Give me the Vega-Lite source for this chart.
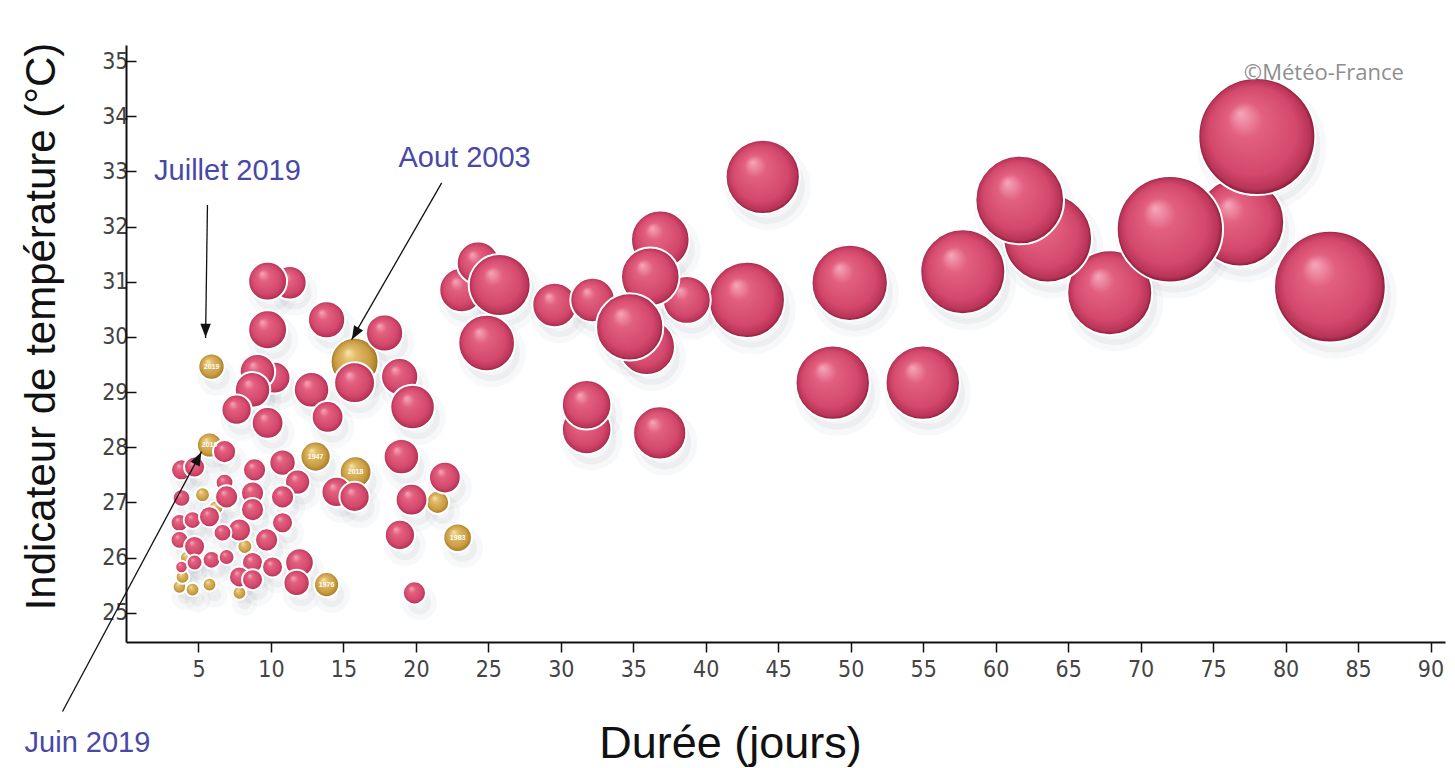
{
  "$schema": "https://vega.github.io/schema/vega-lite/v6.json",
  "width": 1319,
  "height": 597,
  "autosize": {"type": "none"},
  "padding": {"left": 126, "top": 45, "right": 10, "bottom": 126},
  "background": "white",
  "config": {"view": {"stroke": null}},
  "datasets": {
    "vagues": [
      {"d": 76.85, "t": 32.08, "s": 250, "c": "rouge", "a": ""},
      {"d": 67.87, "t": 30.80, "s": 230, "c": "rouge", "a": ""},
      {"d": 63.59, "t": 31.79, "s": 250, "c": "rouge", "a": ""},
      {"d": 61.66, "t": 32.48, "s": 250, "c": "rouge", "a": ""},
      {"d": 57.73, "t": 31.18, "s": 230, "c": "rouge", "a": ""},
      {"d": 72.02, "t": 31.95, "s": 360, "c": "rouge", "a": ""},
      {"d": 78.02, "t": 33.63, "s": 436, "c": "rouge", "a": ""},
      {"d": 83.06, "t": 30.91, "s": 397, "c": "rouge", "a": ""},
      {"d": 43.93, "t": 32.9, "s": 175, "c": "rouge", "a": ""},
      {"d": 42.83, "t": 30.67, "s": 185, "c": "rouge", "a": ""},
      {"d": 49.93, "t": 30.98, "s": 185, "c": "rouge", "a": ""},
      {"d": 48.76, "t": 29.17, "s": 176, "c": "rouge", "a": ""},
      {"d": 54.97, "t": 29.17, "s": 176, "c": "rouge", "a": ""},
      {"d": 23.15, "t": 30.85, "s": 63, "c": "rouge", "a": ""},
      {"d": 24.29, "t": 31.34, "s": 58, "c": "rouge", "a": ""},
      {"d": 24.88, "t": 29.89, "s": 102, "c": "rouge", "a": ""},
      {"d": 25.78, "t": 30.94, "s": 122, "c": "rouge", "a": ""},
      {"d": 29.57, "t": 30.58, "s": 63, "c": "rouge", "a": ""},
      {"d": 32.19, "t": 30.67, "s": 63, "c": "rouge", "a": ""},
      {"d": 38.69, "t": 30.67, "s": 73, "c": "rouge", "a": ""},
      {"d": 35.92, "t": 29.82, "s": 102, "c": "rouge", "a": ""},
      {"d": 36.86, "t": 31.76, "s": 109, "c": "rouge", "a": ""},
      {"d": 36.17, "t": 31.09, "s": 109, "c": "rouge", "a": ""},
      {"d": 34.75, "t": 30.18, "s": 144, "c": "rouge", "a": ""},
      {"d": 31.78, "t": 28.32, "s": 78, "c": "rouge", "a": ""},
      {"d": 31.78, "t": 28.77, "s": 78, "c": "rouge", "a": ""},
      {"d": 36.82, "t": 28.26, "s": 90, "c": "rouge", "a": ""},
      {"d": 3.69, "t": 25.47, "s": 6, "c": "or", "a": ""},
      {"d": 4.59, "t": 25.42, "s": 6, "c": "or", "a": ""},
      {"d": 3.90, "t": 25.65, "s": 6, "c": "or", "a": ""},
      {"d": 5.76, "t": 25.51, "s": 6, "c": "or", "a": ""},
      {"d": 7.83, "t": 25.36, "s": 6, "c": "or", "a": ""},
      {"d": 4.2, "t": 26.0, "s": 6, "c": "or", "a": ""},
      {"d": 6.2, "t": 26.9, "s": 7, "c": "or", "a": ""},
      {"d": 8.2, "t": 26.2, "s": 7, "c": "or", "a": ""},
      {"d": 21.5, "t": 27.0, "s": 17, "c": "or", "a": ""},
      {"d": 5.28, "t": 27.14, "s": 7, "c": "or", "a": ""},
      {"d": 15.77, "t": 29.55, "s": 73, "c": "or", "a": ""},
      {"d": 15.84, "t": 27.55, "s": 32, "c": "or", "a": "2018"},
      {"d": 5.76, "t": 28.04, "s": 20, "c": "or", "a": "2019"},
      {"d": 11.30, "t": 30.98, "s": 36, "c": "rouge", "a": ""},
      {"d": 9.77, "t": 31.01, "s": 48, "c": "rouge", "a": ""},
      {"d": 9.77, "t": 30.13, "s": 48, "c": "rouge", "a": ""},
      {"d": 13.84, "t": 30.31, "s": 44, "c": "rouge", "a": ""},
      {"d": 17.84, "t": 30.07, "s": 44, "c": "rouge", "a": ""},
      {"d": 15.77, "t": 29.17, "s": 53, "c": "rouge", "a": ""},
      {"d": 18.88, "t": 29.28, "s": 44, "c": "rouge", "a": ""},
      {"d": 19.77, "t": 28.73, "s": 63, "c": "rouge", "a": ""},
      {"d": 12.80, "t": 29.04, "s": 40, "c": "rouge", "a": ""},
      {"d": 13.91, "t": 28.55, "s": 32, "c": "rouge", "a": ""},
      {"d": 10.25, "t": 29.26, "s": 32, "c": "rouge", "a": ""},
      {"d": 9.07, "t": 29.37, "s": 40, "c": "rouge", "a": ""},
      {"d": 8.73, "t": 29.04, "s": 40, "c": "rouge", "a": ""},
      {"d": 7.63, "t": 28.68, "s": 29, "c": "rouge", "a": ""},
      {"d": 9.77, "t": 28.44, "s": 32, "c": "rouge", "a": ""},
      {"d": 6.80, "t": 27.92, "s": 17, "c": "rouge", "a": ""},
      {"d": 3.83, "t": 27.59, "s": 14, "c": "rouge", "a": ""},
      {"d": 4.73, "t": 27.64, "s": 14, "c": "rouge", "a": ""},
      {"d": 10.80, "t": 27.72, "s": 22, "c": "rouge", "a": ""},
      {"d": 11.84, "t": 27.37, "s": 20, "c": "rouge", "a": ""},
      {"d": 8.87, "t": 27.59, "s": 17, "c": "rouge", "a": ""},
      {"d": 3.83, "t": 27.08, "s": 10, "c": "rouge", "a": ""},
      {"d": 6.80, "t": 27.36, "s": 10, "c": "rouge", "a": ""},
      {"d": 6.94, "t": 27.10, "s": 17, "c": "rouge", "a": ""},
      {"d": 8.73, "t": 27.17, "s": 17, "c": "rouge", "a": ""},
      {"d": 8.73, "t": 26.87, "s": 17, "c": "rouge", "a": ""},
      {"d": 10.80, "t": 27.10, "s": 17, "c": "rouge", "a": ""},
      {"d": 3.69, "t": 26.63, "s": 10, "c": "rouge", "a": ""},
      {"d": 4.59, "t": 26.68, "s": 10, "c": "rouge", "a": ""},
      {"d": 5.76, "t": 26.74, "s": 14, "c": "rouge", "a": ""},
      {"d": 7.83, "t": 26.50, "s": 17, "c": "rouge", "a": ""},
      {"d": 6.66, "t": 26.45, "s": 10, "c": "rouge", "a": ""},
      {"d": 10.80, "t": 26.63, "s": 14, "c": "rouge", "a": ""},
      {"d": 9.70, "t": 26.32, "s": 17, "c": "rouge", "a": ""},
      {"d": 3.69, "t": 26.32, "s": 10, "c": "rouge", "a": ""},
      {"d": 4.73, "t": 26.20, "s": 14, "c": "rouge", "a": ""},
      {"d": 11.97, "t": 25.91, "s": 26, "c": "rouge", "a": ""},
      {"d": 3.83, "t": 25.83, "s": 5, "c": "rouge", "a": ""},
      {"d": 4.73, "t": 25.91, "s": 8, "c": "rouge", "a": ""},
      {"d": 5.90, "t": 25.96, "s": 10, "c": "rouge", "a": ""},
      {"d": 6.94, "t": 26.01, "s": 8, "c": "rouge", "a": ""},
      {"d": 8.73, "t": 25.91, "s": 14, "c": "rouge", "a": ""},
      {"d": 10.11, "t": 25.83, "s": 14, "c": "rouge", "a": ""},
      {"d": 7.83, "t": 25.65, "s": 14, "c": "rouge", "a": ""},
      {"d": 8.73, "t": 25.60, "s": 14, "c": "rouge", "a": ""},
      {"d": 11.77, "t": 25.54, "s": 22, "c": "rouge", "a": ""},
      {"d": 19.0, "t": 27.83, "s": 40, "c": "rouge", "a": ""},
      {"d": 22.0, "t": 27.45, "s": 32, "c": "rouge", "a": ""},
      {"d": 19.7, "t": 27.05, "s": 32, "c": "rouge", "a": ""},
      {"d": 18.9, "t": 26.41, "s": 29, "c": "rouge", "a": ""},
      {"d": 19.9, "t": 25.36, "s": 17, "c": "rouge", "a": ""},
      {"d": 14.53, "t": 27.19, "s": 29, "c": "rouge", "a": ""},
      {"d": 15.77, "t": 27.10, "s": 29, "c": "rouge", "a": ""},
      {"d": 13.08, "t": 27.83, "s": 29, "c": "or", "a": "1947"},
      {"d": 22.88, "t": 26.36, "s": 26, "c": "or", "a": "1983"},
      {"d": 13.84, "t": 25.51, "s": 20, "c": "or", "a": "1976"},
      {"d": 5.90, "t": 29.46, "s": 22, "c": "or", "a": "2019"}
    ],
    "annotations": [
      {"label": "Juillet 2019", "x": 7.0, "y": 32.84},
      {"label": "Aout 2003", "x": 23.36, "y": 33.08},
      {"label": "Juin 2019", "x": -2.66, "y": 22.48}
    ],
    "fleches": [
      {"nom": "Juillet 2019", "x": 5.62, "y": 32.39, "x2": 5.49, "y2": 29.98},
      {"nom": "Aout 2003", "x": 21.78, "y": 32.79, "x2": 15.56, "y2": 29.95},
      {"nom": "Juin 2019", "x": -4.38, "y": 23.21, "x2": 5.21, "y2": 27.92}
    ],
    "pointes": [
      {"nom": "Juillet 2019", "x": 5.49, "y": 30.13},
      {"nom": "Aout 2003", "x": 15.84, "y": 30.07},
      {"nom": "Juin 2019", "x": 4.96, "y": 27.79}
    ],
    "credit": [
      {"label": "©Météo-France", "x": 82.64, "y": 34.66}
    ]
  },
  "layer": [
    {
      "data": {"name": "vagues"},
      "mark": {"type": "point", "filled": true, "fill": "#6a7480", "fillOpacity": 0.07, "stroke": "#6a7480", "strokeOpacity": 0.05, "strokeWidth": 12, "xOffset": 5, "yOffset": 10},
      "encoding": {
        "x": {"field": "d", "type": "quantitative", "scale": {"domain": [0, 91], "nice": false, "zero": false},
          "axis": {"values": [5,10,15,20,25,30,35,40,45,50,55,60,65,70,75,80,85,90], "grid": false, "domainColor": "#111", "domainWidth": 2, "tickColor": "#111", "tickWidth": 1.5, "tickSize": 10,
            "labelFont": "Liberation Sans Narrow, DejaVu Sans Condensed, Liberation Sans", "labelFontSize": 23, "labelColor": "#444", "labelPadding": 6,
            "title": "Durée (jours)", "titleFont": "Liberation Sans", "titleFontSize": 45, "titleFontWeight": "normal", "titleColor": "#111",
            "titleX": 604, "titleY": 115, "titleBaseline": "alphabetic", "titleAlign": "center"}},
        "y": {"field": "t", "type": "quantitative", "scale": {"domain": [24.47, 35.29], "nice": false, "zero": false},
          "axis": {"values": [25,26,27,28,29,30,31,32,33,34,35], "grid": false, "domainColor": "#111", "domainWidth": 2, "tickColor": "#111", "tickWidth": 1.5, "tickSize": -10,
            "labelFont": "Liberation Sans Narrow, DejaVu Sans Condensed, Liberation Sans", "labelFontSize": 23, "labelColor": "#444", "labelPadding": 8,
            "title": "Indicateur de température (°C)", "titleFont": "Liberation Sans", "titleFontSize": 42, "titleFontWeight": "normal", "titleColor": "#111",
            "titleAngle": -90, "titleX": -72, "titleY": 281, "titleBaseline": "alphabetic", "titleAlign": "center"}},
        "size": {"field": "s", "type": "quantitative", "scale": {"type": "linear", "domain": [0, 400], "range": [0, 12566], "zero": true}, "legend": null}
      }
    },
    {
      "data": {"name": "vagues"},
      "mark": {"type": "point", "filled": true, "stroke": "#ffffff", "strokeWidth": 2, "opacity": 1},
      "encoding": {
        "x": {"field": "d", "type": "quantitative"},
        "y": {"field": "t", "type": "quantitative"},
        "size": {"field": "s", "type": "quantitative", "legend": null},
        "fill": {
          "condition": {"test": "datum.c === 'or'", "value": {"gradient": "radial", "x1": 0.36, "y1": 0.3, "r1": 0, "x2": 0.5, "y2": 0.5, "r2": 0.5,
            "stops": [{"offset": 0, "color": "#f7e6b0"}, {"offset": 0.3, "color": "#dfba66"}, {"offset": 0.75, "color": "#c99c42"}, {"offset": 0.93, "color": "#ab8028"}, {"offset": 1, "color": "#755614"}]}},
          "value": {"gradient": "radial", "x1": 0.36, "y1": 0.3, "r1": 0, "x2": 0.5, "y2": 0.5, "r2": 0.5,
            "stops": [{"offset": 0, "color": "#f5a8ba"}, {"offset": 0.3, "color": "#e2607f"}, {"offset": 0.75, "color": "#d3486c"}, {"offset": 0.93, "color": "#b93458"}, {"offset": 1, "color": "#801834"}]}
        }
      }
    },
    {
      "data": {"name": "vagues"},
      "transform": [{"filter": "datum.a !== ''"}],
      "mark": {"type": "text", "color": "#ffffff", "fontSize": 7, "fontWeight": "bold", "font": "Liberation Sans Narrow, Liberation Sans", "baseline": "middle"},
      "encoding": {
        "x": {"field": "d", "type": "quantitative"},
        "y": {"field": "t", "type": "quantitative"},
        "text": {"field": "a"}
      }
    },
    {
      "data": {"name": "fleches"},
      "mark": {"type": "rule", "color": "#111", "strokeWidth": 1.3},
      "encoding": {
        "x": {"field": "x", "type": "quantitative"},
        "y": {"field": "y", "type": "quantitative"},
        "x2": {"field": "x2"},
        "y2": {"field": "y2"}
      }
    },
    {
      "data": {"name": "pointes"},
      "transform": [{"filter": "datum.nom === 'Juillet 2019'"}],
      "mark": {"type": "point", "shape": "M0,-1L0.7,0.8L-0.7,0.8Z", "filled": true, "color": "#111", "size": 225, "angle": 180, "opacity": 1},
      "encoding": {"x": {"field": "x", "type": "quantitative"}, "y": {"field": "y", "type": "quantitative"}}
    },
    {
      "data": {"name": "pointes"},
      "transform": [{"filter": "datum.nom === 'Aout 2003'"}],
      "mark": {"type": "point", "shape": "M0,-1L0.7,0.8L-0.7,0.8Z", "filled": true, "color": "#111", "size": 225, "angle": 210, "opacity": 1},
      "encoding": {"x": {"field": "x", "type": "quantitative"}, "y": {"field": "y", "type": "quantitative"}}
    },
    {
      "data": {"name": "pointes"},
      "transform": [{"filter": "datum.nom === 'Juin 2019'"}],
      "mark": {"type": "point", "shape": "M0,-1L0.7,0.8L-0.7,0.8Z", "filled": true, "color": "#111", "size": 225, "angle": 28, "opacity": 1},
      "encoding": {"x": {"field": "x", "type": "quantitative"}, "y": {"field": "y", "type": "quantitative"}}
    },
    {
      "data": {"name": "annotations"},
      "mark": {"type": "text", "color": "#4848a8", "fontSize": 29, "font": "Liberation Sans", "align": "center", "baseline": "alphabetic"},
      "encoding": {
        "x": {"field": "x", "type": "quantitative"},
        "y": {"field": "y", "type": "quantitative"},
        "text": {"field": "label"}
      }
    },
    {
      "data": {"name": "credit"},
      "mark": {"type": "text", "color": "#8e8e8e", "fontSize": 22, "font": "Open Sans", "align": "center", "baseline": "alphabetic"},
      "encoding": {
        "x": {"field": "x", "type": "quantitative"},
        "y": {"field": "y", "type": "quantitative"},
        "text": {"field": "label"}
      }
    }
  ]
}
